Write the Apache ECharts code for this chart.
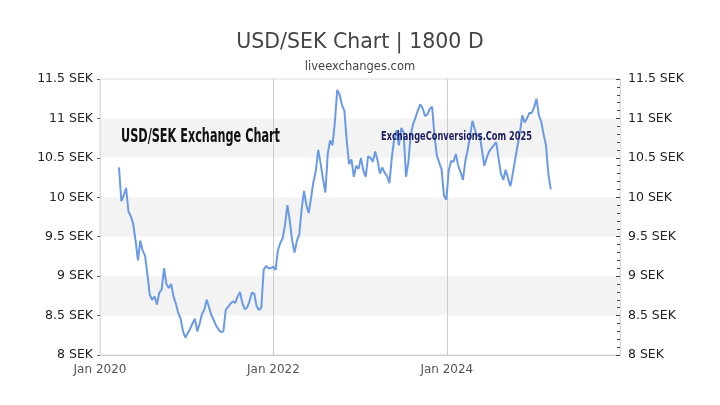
<!DOCTYPE html>
<html>
<head>
<meta charset="utf-8">
<script src="https://cdn.jsdelivr.net/npm/echarts@6/dist/echarts.min.js"></script>
<style>html,body{margin:0;padding:0;background:#fff}#c{width:720px;height:405px}</style>
</head>
<body>
<div id="c"></div>
<script>
// Data: USD/SEK rate, one value every 10 days starting 2020-03-21
const startDate = '2020-03-21';
const stepDays = 10;
const rates = [
10.38,9.95,10.02,10.12,9.82,9.76,9.66,9.45,9.2,9.45,
9.32,9.26,9.02,8.76,8.7,8.74,8.64,8.79,8.83,9.1,
8.9,8.85,8.9,8.74,8.65,8.53,8.46,8.3,8.22,8.28,
8.33,8.4,8.46,8.3,8.4,8.52,8.58,8.7,8.6,8.5,
8.44,8.37,8.32,8.29,8.3,8.57,8.61,8.65,8.68,8.66,
8.74,8.8,8.66,8.58,8.6,8.68,8.79,8.78,8.62,8.57,
8.6,9.08,9.13,9.1,9.1,9.12,9.08,9.33,9.42,9.48,
9.65,9.9,9.7,9.45,9.3,9.45,9.53,9.85,10.08,9.9,
9.8,10.0,10.2,10.34,10.6,10.43,10.23,10.06,10.55,10.72,
10.66,10.95,11.36,11.3,11.17,11.1,10.72,10.42,10.48,10.26,
10.4,10.36,10.5,10.34,10.26,10.52,10.5,10.45,10.58,10.47,
10.3,10.38,10.31,10.27,10.18,10.5,10.74,10.85,10.66,10.88,
10.82,10.26,10.45,10.8,10.93,11.01,11.1,11.18,11.13,11.03,
11.05,11.12,11.15,10.78,10.53,10.44,10.35,10.02,9.97,10.34,
10.46,10.45,10.55,10.4,10.32,10.22,10.46,10.6,10.78,10.97,
10.86,10.77,10.8,10.6,10.4,10.5,10.58,10.62,10.66,10.7,
10.5,10.3,10.22,10.35,10.24,10.14,10.3,10.48,10.65,10.82,
11.04,10.95,11.0,11.07,11.07,11.14,11.25,11.04,10.96,10.8,
10.66,10.3,10.1
];
const yTicks = [8, 8.5, 9, 9.5, 10, 10.5, 11, 11.5];
const xStart = '2020-01-01';
const xEnd = '2026-01-01';
const titleText = 'USD/SEK Chart | 1800 D';
const subText = 'liveexchanges.com';
const mark1 = 'USD/SEK Exchange Chart';
const mark2 = 'ExchangeConversions.Com 2025';

const DAY = 86400000;
const t0 = Date.parse(startDate + 'T00:00:00Z');
const seriesData = rates.map((v, i) => [t0 + i * stepDays * DAY, v]);
const xMin = Date.parse(xStart + 'T00:00:00Z');
const xMax = Date.parse(xEnd + 'T00:00:00Z');

const font = 'DejaVu Sans';
const narrow = '"DejaVu Sans Condensed", "DejaVu Sans", sans-serif';
const mctx = document.createElement('canvas').getContext('2d');
function fitScale(text, size, target) {
  mctx.font = 'bold ' + size + 'px ' + narrow;
  return target / mctx.measureText(text).width;
}
const s1 = fitScale(mark1, 20, 159);
const s2 = fitScale(mark2, 12.5, 151);

const chart = echarts.init(document.getElementById('c'), null, {renderer: 'canvas'});
chart.setOption({
  animation: false,
  backgroundColor: '#fff',
  title: {
    text: titleText, subtext: subText, left: 'center', top: 27, itemGap: 8,
    textStyle: {fontFamily: font, fontSize: 20.5, fontWeight: 'normal', color: '#444'},
    subtextStyle: {fontFamily: font, fontSize: 11.5, color: '#444'}
  },
  grid: {left: 100, right: 100, top: 79, bottom: 50, show: true, borderColor: '#ddd', borderWidth: 1},
  xAxis: {
    type: 'value', min: xMin, max: xMax, interval: 731 * DAY,
    axisLine: {show: true, lineStyle: {color: '#ccc'}},
    axisTick: {show: false},
    splitLine: {show: true, lineStyle: {color: '#ccc', width: 1}},
    axisLabel: {
      showMaxLabel: false, fontFamily: font, fontSize: 12, color: '#555', margin: 9,
      formatter: v => 'Jan ' + new Date(v).getUTCFullYear()
    }
  },
  yAxis: [{
    type: 'value', position: 'left', min: yTicks[0], max: yTicks[yTicks.length - 1], interval: 0.5,
    axisLine: {show: true, lineStyle: {color: '#ddd'}},
    axisTick: {show: true, length: 3, lineStyle: {color: '#666'}},
    splitLine: {show: false},
    splitArea: {show: true, areaStyle: {color: ['rgba(255,255,255,0)', '#f3f3f3']}},
    axisLabel: {fontFamily: font, fontSize: 12.5, color: '#222', margin: 7, formatter: v => v + ' SEK'}
  }, {
    type: 'value', position: 'right', min: yTicks[0], max: yTicks[yTicks.length - 1], interval: 0.5,
    axisLine: {show: true, lineStyle: {color: '#ddd'}},
    axisTick: {show: true, inside: true, length: 4, lineStyle: {color: '#444'}},
    minorTick: {show: true, splitNumber: 5, length: 3, lineStyle: {color: '#444'}},
    splitLine: {show: false},
    axisLabel: {fontFamily: font, fontSize: 12.5, color: '#222', margin: 8, formatter: v => v + ' SEK'}
  }],
  graphic: {elements: [
    {type: 'text', x: 121, y: 127, scaleX: s1, z: 100,
      style: {text: mark1, fill: '#111', fontSize: 20, fontWeight: 'bold', fontFamily: narrow}},
    {type: 'text', x: 381, y: 130, scaleX: s2, z: 100,
      style: {text: mark2, fill: '#1c1c5e', fontSize: 12.5, fontWeight: 'bold', fontFamily: narrow}}
  ]},
  series: [{
    type: 'line', data: seriesData, showSymbol: false, symbol: 'none',
    lineStyle: {color: '#6a9ae6', width: 2}, z: 3
  }]
});
</script>
</body>
</html>
